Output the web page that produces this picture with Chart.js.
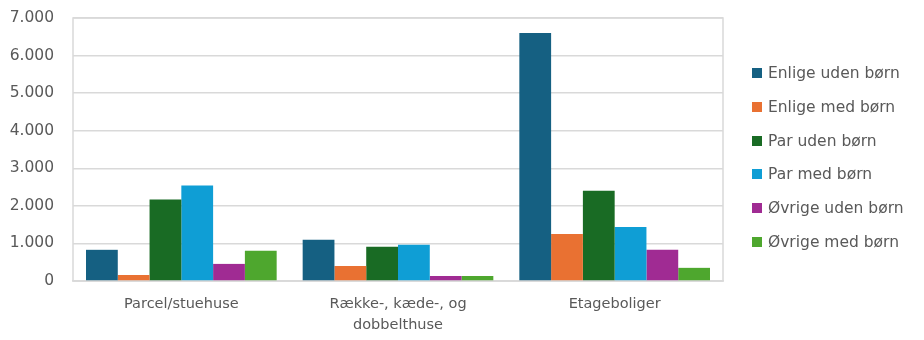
<!DOCTYPE html>
<html>
<head>
<meta charset="utf-8">
<script src="https://cdn.jsdelivr.net/npm/chart.js@4/dist/chart.umd.min.js"></script>
<style>
  body { margin: 0; background: #fff; }
  #wrap { position: relative; width: 924px; height: 340px; }
  #legend { position: absolute; left: 752px; top: 64px; font-family: "DejaVu Sans", sans-serif; font-size: 15.5px; color: #595959; }
  .item { height: 33.8px; line-height: 18px; white-space: nowrap; }
  .box { display: inline-block; width: 10px; height: 10px; margin-right: 6px; vertical-align: 0px; }
</style>
</head>
<body>
<div id="wrap">
  <canvas id="chart" width="924" height="340"></canvas>
  <div id="legend"></div>
</div>
<script>
const categories = ['Parcel/stuehuse', ['Række-, kæde-, og', 'dobbelthuse'], 'Etageboliger'];
const seriesNames = ['Enlige uden børn', 'Enlige med børn', 'Par uden børn', 'Par med børn', 'Øvrige uden børn', 'Øvrige med børn'];
const enligeUden = [830, 1100, 6600];
const enligeMed = [160, 400, 1250];
const parUden = [2170, 910, 2400];
const parMed = [2540, 965, 1440];
const ovrigeUden = [455, 135, 830];
const ovrigeMed = [805, 135, 350];
const yTicks = [0, 1000, 2000, 3000, 4000, 5000, 6000, 7000];

const colors = ['#156082', '#E97132', '#196B24', '#0F9ED5', '#A02B93', '#4EA72E'];
const seriesValues = [enligeUden, enligeMed, parUden, parMed, ovrigeUden, ovrigeMed];

const frame = {
    id: 'frame',
    beforeDatasetsDraw(chart) {
        const a = chart.chartArea;
        const ctx = chart.ctx;
        ctx.save();
        ctx.strokeStyle = '#d9d9d9';
        ctx.lineWidth = 1.5;
        ctx.strokeRect(a.left, a.top, a.right - a.left, a.bottom - a.top);
        ctx.restore();
    }
};

function fmt(v) {
    return v.toLocaleString('da-DK').replace(/,/g, '.');
}

function createChart() {
    const ctx = document.getElementById('chart').getContext('2d');
    new Chart(ctx, {
        type: 'bar',
        data: {
            labels: categories,
            datasets: seriesNames.map((name, i) => ({
                label: name,
                data: seriesValues[i],
                backgroundColor: colors[i],
                borderWidth: 0,
                categoryPercentage: 0.88,
                barPercentage: 1.0
            }))
        },
        options: {
            responsive: false,
            animation: false,
            layout: { padding: { top: 18, right: 201, bottom: 0, left: 0 } },
            plugins: {
                legend: { display: false },
                tooltip: { enabled: false }
            },
            scales: {
                x: {
                    afterFit: function(scale) { scale.height = 59; },
                    grid: { display: false },
                    border: { color: '#d9d9d9', width: 1.5 },
                    ticks: {
                        color: '#595959',
                        padding: 4,
                        maxRotation: 0,
                        autoSkip: false,
                        font: { family: 'DejaVu Sans', size: 14.5, lineHeight: 1.5 }
                    }
                },
                y: {
                    min: 0,
                    max: 7000,
                    afterFit: function(scale) {
                        scale.width = 73;
                        scale.paddingTop = 0;
                        scale.paddingBottom = 0;
                    },
                    afterBuildTicks: function(scale) { scale.ticks = yTicks.map(v => ({ value: v })); },
                    grid: { color: '#d9d9d9', lineWidth: 1.5, drawTicks: false },
                    border: { display: false },
                    ticks: {
                        color: '#595959',
                        padding: 19,
                        font: { family: 'DejaVu Sans', size: 15.5 },
                        callback: function(v) { return fmt(v); }
                    }
                }
            }
        },
        plugins: [frame]
    });
}

function buildLegend() {
    const el = document.getElementById('legend');
    seriesNames.forEach((name, i) => {
        const row = document.createElement('div');
        row.className = 'item';
        const box = document.createElement('span');
        box.className = 'box';
        box.style.background = colors[i];
        row.appendChild(box);
        row.appendChild(document.createTextNode(name));
        el.appendChild(row);
    });
}

createChart();
buildLegend();
</script>
</body>
</html>
